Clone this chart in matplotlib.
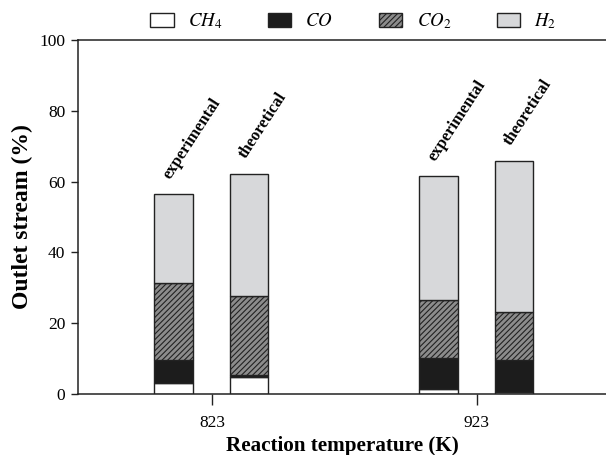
import numpy as np
import matplotlib
matplotlib.use('Agg')
import matplotlib.pyplot as plt
from matplotlib.patches import Patch

plt.rcParams['font.family'] = ['Liberation Serif', 'DejaVu Serif']
plt.rcParams['mathtext.fontset'] = 'stix'
plt.rcParams['hatch.linewidth'] = 0.8

### DATA ###
temps = [823, 923]
kinds = ['experimental', 'theoretical']
# values per gas: [exp 823, theo 823], [exp 923, theo 923]
ch4 = [[3.2, 4.8], [1.4, 0.6]]
co = [[6.4, 0.5], [8.9, 9.1]]
co2 = [[21.8, 22.3], [16.4, 13.4]]
h2 = [[25.1, 34.6], [34.8, 42.8]]
gas_labels = [r'$CH_4$', r'$CO$', r'$CO_2$', r'$H_2$']

### STYLE ###
edge = '#222222'
styles = [dict(facecolor='white', hatch=None),
          dict(facecolor='#1c1c1c', hatch=None),
          dict(facecolor='#8c8c8c', hatch='//////'),
          dict(facecolor='#d7d8da', hatch=None)]
bar_w = 14.5
offsets = [-14.6, 13.9]

fig = plt.figure(figsize=(6.06, 4.55), dpi=100)
ax = fig.add_axes([0.1287, 0.134, 0.8713, 0.778])

gases = [ch4, co, co2, h2]
for j, kind in enumerate(kinds):
    xs = [t + offsets[j] for t in temps]
    bottom = np.zeros(len(temps))
    for g, st in zip(gases, styles):
        vals = np.array([g[i][j] for i in range(len(temps))])
        ax.bar(xs, vals, bar_w, bottom=bottom, facecolor=st['facecolor'],
               hatch=st['hatch'], edgecolor=edge, linewidth=1.0)
        bottom += vals
    for x, top in zip(xs, bottom):
        ax.annotate(kind, (x, top), xytext=(0, 9), textcoords='offset points',
                    rotation=57, rotation_mode='anchor', ha='left', va='bottom',
                    fontsize=12, fontweight='bold')

ax.set_xlim(772.4, 971.7)
ax.set_ylim(0, 100)
ax.set_xticks(temps)
ax.set_xticklabels([str(t) for t in temps])
ax.set_yticks(np.arange(0, 101, 20))
ax.tick_params(axis='both', direction='out', labelsize=12.5, width=1, color='#222')
ax.tick_params(axis='y', length=5, pad=4)
ax.tick_params(axis='x', length=8, pad=7)
ax.spines['right'].set_visible(False)
for s in ['left', 'top', 'bottom']:
    ax.spines[s].set_linewidth(1.1)
    ax.spines[s].set_color('#222')

ax.set_ylabel('Outlet stream (%)', fontsize=17, fontweight='bold', labelpad=5)
ax.set_xlabel('Reaction temperature (K)', fontsize=15.2, fontweight='bold', labelpad=4)

handles = [Patch(facecolor=st['facecolor'], hatch=st['hatch'], edgecolor=edge, linewidth=1.0)
           for st in styles]
fig.legend(handles, gas_labels, loc='upper center', bbox_to_anchor=(0.583, 1.012), ncol=4,
           frameon=False, fontsize=13.5, handlelength=1.25, handleheight=0.75,
           columnspacing=2.45, handletextpad=0.75)

fig.savefig('out.png', dpi=100)
